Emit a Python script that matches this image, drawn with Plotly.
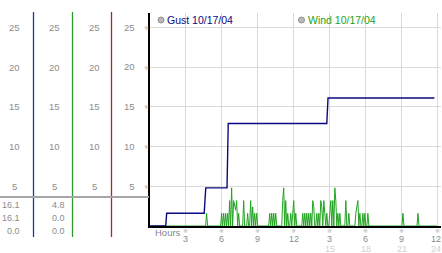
import plotly.graph_objects as go

W, H = 442, 253

# ---- data ----
# wind speed, 5-minute samples over 24 hours (one row per hour)
wind = [
    0, 0, 0, 0, 0, 0, 0, 0, 0, 0, 0, 0,
    0, 0, 0, 0, 0, 0, 0, 0, 0, 0, 0, 0,
    0, 0, 0, 0, 0, 0, 0, 0, 0, 0, 0, 0,
    0, 0, 0, 0, 0, 0, 0, 0, 0, 0, 0, 0,
    0, 0, 0, 0, 0, 0, 0, 0, 0, 1.6, 0, 0,
    0, 0, 0, 0, 0, 0, 0, 0, 0, 0, 0, 0,
    1.6, 0, 1.6, 0, 1.6, 0, 1.6, 0, 3.2, 0, 4.8, 0,
    3.2, 2.4, 2.0, 3.2, 0, 1.6, 0, 0, 0, 0, 3.2, 0,
    0, 0, 1.6, 0, 0, 3.2, 0, 2.4, 0, 1.6, 0, 1.6,
    0, 0, 0, 0, 0, 0, 0, 0, 0, 0, 0, 0,
    1.6, 0, 1.6, 0, 1.6, 0, 1.6, 0, 0, 0, 0, 0,
    0, 3.2, 4.8, 0, 3.2, 0, 1.6, 0, 0, 1.6, 0, 1.6,
    3.2, 0, 1.6, 0, 0, 0, 0, 0, 0, 1.6, 0, 1.6,
    0, 1.6, 0, 1.6, 0, 1.6, 0, 3.2, 2.4, 0, 0, 1.6,
    0, 1.6, 0, 3.2, 2.4, 0, 3.2, 1.6, 0, 1.6, 0, 0,
    2.4, 3.2, 0, 3.2, 0, 4.8, 3.2, 0, 1.6, 0, 1.6, 0,
    0, 0, 0, 0, 3.2, 0, 0, 1.6, 0, 0, 0, 0,
    0, 0, 1.6, 2.4, 3.2, 0, 1.6, 0, 0, 1.6, 0, 1.6,
    0, 0, 1.6, 0, 0, 0, 0, 0, 0, 0, 0, 0,
    0, 0, 0, 0, 0, 0, 0, 0, 0, 0, 0, 0,
    0, 0, 0, 0, 0, 0, 0, 0, 0, 0, 0, 0,
    0, 1.6, 0, 0, 0, 0, 0, 0, 0, 0, 0, 0,
    0, 0, 0, 0, 1.6, 0, 0, 0, 0, 0, 0, 0,
    0, 0, 0, 0, 0, 0, 0, 0, 0, 0, 0, 0,
]
wind_hours = [i * 5 / 60 for i in range(len(wind))]

# gust: running peak, step changes
gust_hours = [0, 1.35, 1.43, 4.55, 4.68, 6.45, 6.55, 14.75, 14.85, 23.7]
gust = [0, 0, 1.6, 1.6, 4.8, 4.8, 12.9, 12.9, 16.1, 16.1]

y_ticks = [5, 10, 15, 20, 25]
x_ticks = [3, 6, 9, 12, 15, 18, 21, 24]
x_row1 = ["3", "6", "9", "12", "3", "6", "9", "12"]
x_row2 = ["", "", "", "", "15", "18", "21", "24"]

gust_stats = ["16.1", "16.1", "0.0"]
wind_stats = ["4.8", "0.0", "0.0"]

legend_labels = ["Gust 10/17/04", "Wind 10/17/04"]

# ---- styling ----
NAVY = "#0a0a80"
GREEN = "#22a322"
GRID = "#d9d9d9"
TXT = "#8c8c8c"
FONT = "Liberation Sans, Arial, sans-serif"
MARKFONT = "DejaVu Sans, Noto Sans CJK JP"


def px(x):
    return x / W


def py(y):
    return 1 - y / H


fig = go.Figure()
fig.add_trace(go.Scatter(x=wind_hours, y=wind, mode="lines",
                         line=dict(color=GREEN, width=1), hoverinfo="skip"))
fig.add_trace(go.Scatter(x=gust_hours, y=gust, mode="lines",
                         line=dict(color=NAVY, width=1.4), hoverinfo="skip"))

fig.update_layout(
    width=W, height=H,
    margin=dict(l=0, r=0, t=0, b=0),
    paper_bgcolor="white", plot_bgcolor="white",
    showlegend=False,
    font=dict(family=FONT, size=9, color=TXT),
    xaxis=dict(domain=[px(149.5), px(441)], range=[0, 24.25],
               tickvals=x_ticks, showticklabels=False, ticks="",
               showgrid=True, gridcolor=GRID, gridwidth=1,
               showline=True, linecolor="black", linewidth=2,
               zeroline=False, fixedrange=True),
    yaxis=dict(domain=[py(226), py(13)], range=[0, 26.8],
               tickvals=y_ticks, ticks="", ticklabelstandoff=11,
               showgrid=True, gridcolor=GRID, gridwidth=1,
               showline=True, linecolor="black", linewidth=2,
               zeroline=False, fixedrange=True,
               tickfont=dict(family=FONT, size=9.5, color=TXT)),
)

ann = []
shapes = []

# little tick marks beside y axis and below x axis
for v in y_ticks:
    ann.append(dict(x=px(146), xref="paper", y=v, yref="y", text="※",
                    showarrow=False, font=dict(family=MARKFONT, size=6, color="#b0b0b0"),
                    xanchor="center", yanchor="middle"))
for v in x_ticks:
    ann.append(dict(x=v, xref="x", y=py(230.5), yref="paper", text="※",
                    showarrow=False, font=dict(family=MARKFONT, size=6, color="#b0b0b0"),
                    xanchor="center", yanchor="middle"))

# x tick labels (two rows)
for v, a, b in zip(x_ticks, x_row1, x_row2):
    xv = min(v, 23.85)
    ann.append(dict(x=xv, xref="x", y=py(238), yref="paper", text=a,
                    showarrow=False, font=dict(size=9, color=TXT),
                    xanchor="center", yanchor="middle", height=9))
    if b:
        ann.append(dict(x=xv, xref="x", y=py(248.5), yref="paper", text=b,
                        showarrow=False, font=dict(size=9, color="#d0d0d0"),
                        xanchor="center", yanchor="middle", height=9))

# "Hours" label
ann.append(dict(x=px(152.5), xref="paper", y=py(232), yref="paper", text="Hours",
                showarrow=False, font=dict(size=9.5, color="#7f8694"),
                xanchor="left", yanchor="middle"))

# left panel column labels
for cx in [14, 54, 94]:
    for v in y_ticks:
        ann.append(dict(x=px(cx), xref="paper", y=v, yref="y", text=str(v),
                        showarrow=False, font=dict(size=9.5, color=TXT),
                        xanchor="center", yanchor="middle"))

# stats under left columns
for i, (g, w) in enumerate(zip(gust_stats, wind_stats)):
    yy = py(205 + i * 13)
    ann.append(dict(x=px(21.5), xref="paper", y=yy, yref="paper", text=g,
                    showarrow=False, font=dict(size=9, color=TXT),
                    xanchor="right", yanchor="middle"))
    ann.append(dict(x=px(67), xref="paper", y=yy, yref="paper", text=w,
                    showarrow=False, font=dict(size=9, color=TXT),
                    xanchor="right", yanchor="middle"))

# vertical coloured column lines
for lx, col in [(33.5, "#1c3c9c"), (72.5, "#2a9a2a"), (111.5, "#b02424")]:
    shapes.append(dict(type="line", xref="paper", yref="paper",
                       x0=px(lx), x1=px(lx), y0=py(12), y1=py(237),
                       line=dict(color=col, width=1.3)))

# grey separator line
shapes.append(dict(type="line", xref="paper", yref="paper",
                   x0=0, x1=px(149), y0=py(197), y1=py(197),
                   line=dict(color="#a6a6a6", width=2)))

# legend
for (lx, label, col) in [(161, legend_labels[0], NAVY), (301.5, legend_labels[1], GREEN)]:
    shapes.append(dict(type="circle", xref="paper", yref="paper",
                       x0=px(lx - 3), x1=px(lx + 3), y0=py(23), y1=py(17),
                       fillcolor="#b8b8b8", line=dict(color="#909090", width=1)))
    ann.append(dict(x=px(lx + 4), xref="paper", y=py(20), yref="paper", text=label,
                    showarrow=False, font=dict(size=10.5, color=col),
                    xanchor="left", yanchor="middle"))

fig.update_layout(annotations=ann, shapes=shapes)

fig.write_html("out.html")
